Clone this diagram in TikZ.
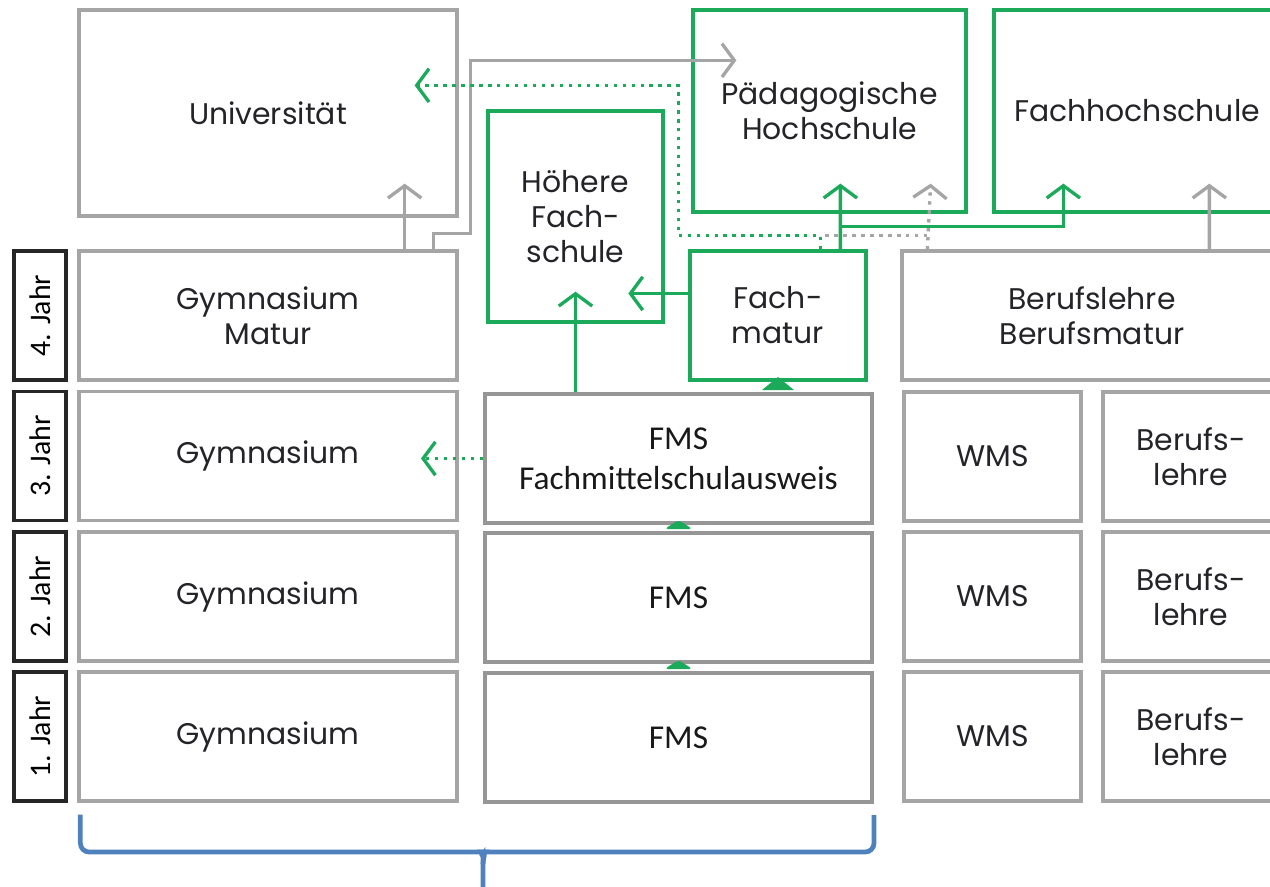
\documentclass[tikz,border=0pt]{standalone}
\usepackage{fontspec}
\setmainfont{Poppins}
\newfontfamily\calibri{Carlito}
\usepackage{xcolor}
\usetikzlibrary{positioning,calc,arrows.meta}

\definecolor{boxgrey}{RGB}{165,165,165}
\definecolor{fmsgrey}{RGB}{150,150,150}
\definecolor{hfgreen}{RGB}{26,170,90}
\definecolor{braceblue}{RGB}{79,129,189}
\definecolor{txt}{RGB}{35,35,40}

\begin{document}
\begin{tikzpicture}[x=0.02cm, y=-0.02cm,
    box/.style={draw=boxgrey, line width=1.9pt, align=center, text=txt, font=\fontsize{17}{20}\selectfont},
    greenbox/.style={box, draw=hfgreen},
    fmsbox/.style={draw=fmsgrey, fill=white, line width=2.3pt, align=center, text=black!90, font=\calibri\fontsize{19}{23}\selectfont, minimum width=7.74cm, minimum height=2.58cm},
    yearbox/.style={draw=black!85, line width=1.9pt, rotate=90, font=\calibri\fontsize{17}{19}\selectfont, minimum width=2.58cm, minimum height=1.04cm},
    greyarrow/.style={draw=boxgrey, line width=1.9pt, -{Straight Barb[length=7pt,width=19pt]}},
    greenarrow/.style={greyarrow, draw=hfgreen},
    dots/.style={dash pattern=on 1.9pt off 3.2pt},
    bluebrace/.style={draw=braceblue, line width=2.7pt, rounded corners=5pt}
]
    \useasboundingbox (0,0) rectangle (1270,886);
    \clip (0,0) rectangle (1270,886);

    % Gymnasium column
    \node[box, minimum width=7.56cm, minimum height=4.12cm] (uni) at (268,113) {Universität};
    \node[box, minimum width=7.56cm, minimum height=2.58cm] (gymM) at (268,315.5) {Gymnasium\\Matur};
    \foreach \n/\y in {3/456,2/596.5,1/736.5}
        \node[box, minimum width=7.56cm, minimum height=2.58cm] (gym\n) at (268,\y) {Gymnasium};

    % years
    \foreach \n/\y in {4/315.5,3/456,2/596.5,1/736.5}
        \node[yearbox] (jahr\n) at (40,\y) {\n. Jahr};

    % FMS column
    \node[greenbox, minimum width=3.5cm, minimum height=4.22cm] (hf) at (575.5,216.5) {Höhere\\Fach-\\schule};
    \node[greenbox, minimum width=3.52cm, minimum height=2.58cm] (fm) at (778,315.5) {Fach-\\matur};
    \node[greenbox, minimum width=5.46cm, minimum height=4.04cm] (ph) at (829.5,111) {Pädagogische\\Hochschule};
    \node[fmsbox] (fms3) at (678.5,458.5) {FMS\\Fachmittelschulausweis};
    \node[fmsbox] (fms2) at (678.5,597.5) {FMS};
    \node[fmsbox] (fms1) at (678.5,737.5) {FMS};

    % Berufslehre column
    \node[greenbox, minimum width=5.72cm, minimum height=4.04cm] (fh) at (1137,111) {Fachhochschule};
    \node[box, minimum width=7.6cm, minimum height=2.58cm] (bb) at (1092,315.5) {Berufslehre\\Berufsmatur};
    \foreach \n/\y in {3/456.5,2/596.5,1/736.5} {
        \node[box, minimum width=3.54cm, minimum height=2.58cm] (wms\n) at (992.5,\y) {WMS};
        \node[box, minimum width=3.52cm, minimum height=2.58cm] (bl\n) at (1191,\y) {Berufs-\\lehre};
    }

    % green tips peeking out above the FMS boxes
    \fill[hfgreen] ($(fm.south |- fms3.north)+(-16,-2)$) -- ++(32,0) -- ++(-16,-13) -- cycle;
    \fill[hfgreen, rounded corners=2pt] ($(fms2.north)+(-14,-2)$) -- ++(28,0) -- ++(-14,-9) -- cycle;
    \fill[hfgreen, rounded corners=2pt] ($(fms1.north)+(-14,-2)$) -- ++(28,0) -- ++(-14,-9) -- cycle;

    % grey paths
    \draw[greyarrow] ($(gymM.north east)+(-54,0)$) -- ($(uni.south east)+(-54,-34)$);
    \draw[greyarrow] ($(gymM.north east)+(-25,0)$) -- ++(0,-16) -- ++(37,0) |- ($(ph.north west)+(45,52)$);
    \draw[greyarrow] ($(bb.north west)+(309,0)$) -- ($(fh.south west)+(217,-30)$);
    \draw[greyarrow, dots] ($(bb.north west)+(27,0)$) -- ($(ph.south east)+(-37,-30)$);
    \draw[draw=boxgrey, line width=1.9pt, dots] ($(bb.north west)+(27,-14)$) -- ($(fm.north west)+(132,-14)$);

    % green paths
    \draw[greenarrow, dots] ($(fm.north west)+(132,0)$) -- ++(0,-14) -- ++(-142,0) |- ($(uni.north east)+(-44,77)$);
    \draw[greenarrow] ($(fm.north west)+(152,0)$) -- ($(ph.south west)+(149,-30)$);
    \draw[greenarrow] ($(fm.north west)+(152,-23)$) -| ($(fh.south west)+(71,-30)$);
    \draw[greenarrow] ($(fm.west)+(0,-22)$) -- ++(-60,0);
    \draw[greenarrow] (hf.south |- fms3.north) -- ($(hf.south)+(0,-32)$);
    \draw[greenarrow, dots] (fms3.west) -- ++(-62,0);

    % brace under Gymnasium and FMS
    \draw[bluebrace] ($(gym1.south west)+(3,12)$) |- ($(fms1.south west)+(-9,48)$) to[out=0,in=90] ($(fms1.south west)+(0,60)$) -- ($(fms1.south west)+(0,86)$);
    \draw[bluebrace] ($(fms1.south west)+(0,60)$) to[out=90,in=180] ($(fms1.south west)+(9,48)$) -| ($(fms1.south east)+(0,11)$);
\end{tikzpicture}
\end{document}
